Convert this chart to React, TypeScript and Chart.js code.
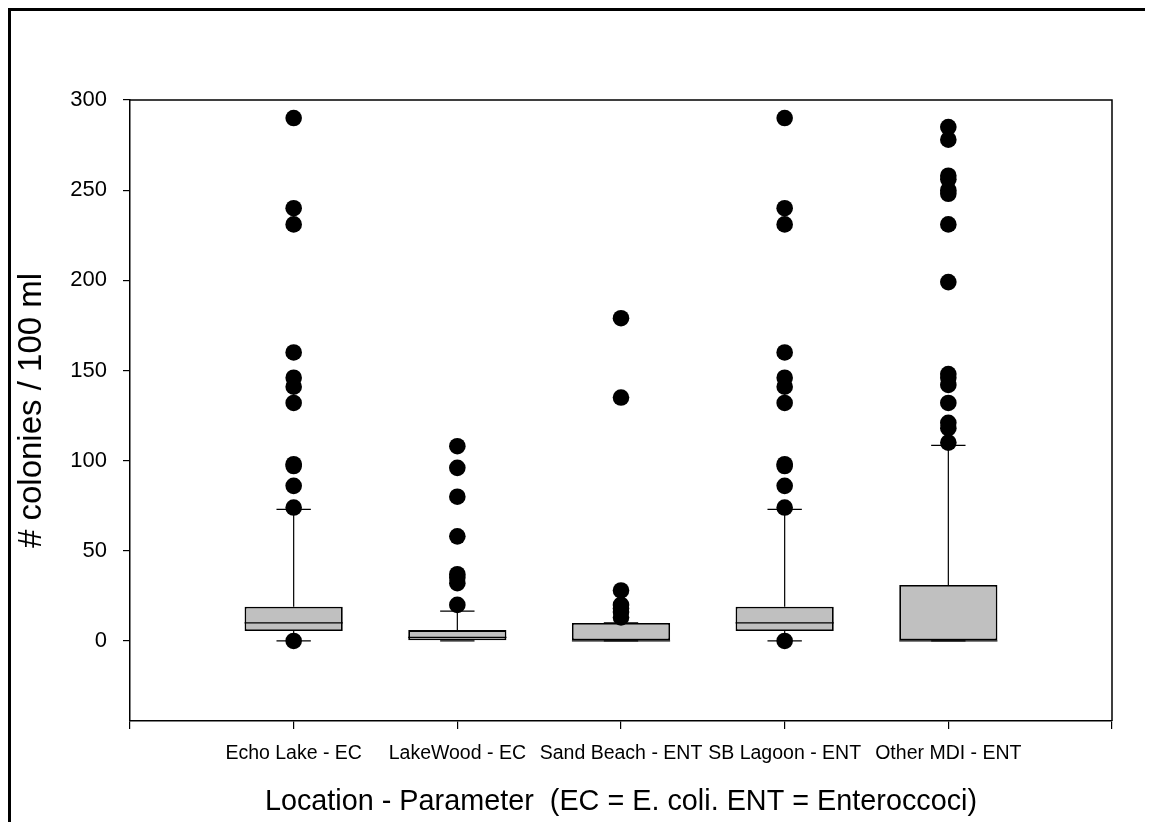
import React, { useEffect, useRef } from "react";
import { Chart, registerables } from "chart.js";

Chart.register(...registerables);

const categories = ["Echo Lake - EC", "LakeWood - EC", "Sand Beach - ENT", "SB Lagoon - ENT", "Other MDI - ENT"];
const boxQ1 = [5.5, 0, 0, 5.5, 0];
const boxQ3 = [19, 6, 10, 19, 31];
const medians = [10, 2, 0, 10, 0];
const whiskerLow = [0, 0, 0, 0, 0];
const whiskerHigh = [73, 16.5, 10, 73, 108.5];

const outliersEchoLake = [0, 74, 86, 97, 98, 132, 141, 146, 160, 231, 240, 290];
const outliersLakeWood = [20, 32, 35, 37, 58, 80, 96, 108];
const outliersSandBeach = [13, 16, 18, 20, 28, 135, 179];
const outliersSBLagoon = [0, 74, 86, 97, 98, 132, 141, 146, 160, 231, 240, 290];
const outliersOtherMDI = [110, 118, 121, 132, 142, 146, 148, 199, 231, 248, 250, 256, 258, 278, 285];
const outlierGroups = [outliersEchoLake, outliersLakeWood, outliersSandBeach, outliersSBLagoon, outliersOtherMDI];

const yTickValues = [0, 50, 100, 150, 200, 250, 300];
const xTickValues = [0, 1, 2, 3, 4, 5, 6];
const yMin = -44.4;
const yMax = 300;

const FONT = "'Liberation Sans', Arial, Helvetica, sans-serif";
const BOX_FRACTION = 0.6;
const CAP_FRACTION = 0.21;

const boxPlotPlugin = {
  id: "boxPlotParts",
  beforeDatasetsDraw(chart: any) {
    const { ctx, scales } = chart;
    const xs = scales.x;
    const ys = scales.y;
    ctx.save();
    ctx.strokeStyle = "#000";
    ctx.lineWidth = 1.2;
    const unit = xs.getPixelForValue(1) - xs.getPixelForValue(0);
    const capHalf = (unit * CAP_FRACTION) / 2;
    categories.forEach((_, i) => {
      const x = xs.getPixelForValue(i + 1);
      const yHi = ys.getPixelForValue(whiskerHigh[i]);
      const yLo = ys.getPixelForValue(whiskerLow[i]);
      const yQ1 = ys.getPixelForValue(boxQ1[i]);
      const yQ3 = ys.getPixelForValue(boxQ3[i]);
      ctx.beginPath();
      ctx.moveTo(x, yQ3);
      ctx.lineTo(x, yHi);
      ctx.moveTo(x, yQ1);
      ctx.lineTo(x, yLo);
      ctx.moveTo(x - capHalf, yHi);
      ctx.lineTo(x + capHalf, yHi);
      ctx.moveTo(x - capHalf, yLo);
      ctx.lineTo(x + capHalf, yLo);
      ctx.stroke();
    });
    ctx.restore();
  },
  afterDatasetDraw(chart: any, args: any) {
    if (args.meta.type !== "bar") return;
    const { ctx, scales } = chart;
    const xs = scales.x;
    const ys = scales.y;
    const unit = xs.getPixelForValue(1) - xs.getPixelForValue(0);
    const half = (unit * BOX_FRACTION) / 2;
    ctx.save();
    ctx.strokeStyle = "#000";
    ctx.lineWidth = 1.3;
    categories.forEach((_, i) => {
      const x = xs.getPixelForValue(i + 1);
      const y = ys.getPixelForValue(medians[i]);
      ctx.beginPath();
      ctx.moveTo(x - half, y);
      ctx.lineTo(x + half, y);
      ctx.stroke();
    });
    ctx.restore();
  },
  afterDraw(chart: any) {
    const { ctx, chartArea } = chart;
    ctx.save();
    ctx.strokeStyle = "#000";
    ctx.lineWidth = 1.5;
    ctx.beginPath();
    ctx.moveTo(chartArea.left, chartArea.top);
    ctx.lineTo(chartArea.right, chartArea.top);
    ctx.lineTo(chartArea.right, chartArea.bottom);
    ctx.stroke();
    ctx.restore();
  },
};

export default function App() {
  const canvasRef = useRef<HTMLCanvasElement | null>(null);

  useEffect(() => {
    document.body.style.overflow = "hidden";
    const canvas = canvasRef.current;
    if (!canvas) return;

    const scatterData: { x: number; y: number }[] = [];
    outlierGroups.forEach((group, i) => {
      group.forEach((v) => scatterData.push({ x: i + 1, y: v }));
    });
    const boxData = categories.map((_, i) => ({ x: i + 1, y: [boxQ1[i], boxQ3[i]] }));

    const chart = new Chart(canvas, {
      type: "bar",
      data: {
        datasets: [
          {
            type: "scatter",
            label: "Outliers",
            data: scatterData,
            pointRadius: 8.3,
            pointHoverRadius: 8.3,
            backgroundColor: "#000",
            borderWidth: 0,
            order: 1,
          } as any,
          {
            type: "bar",
            label: "Box",
            data: boxData as any,
            backgroundColor: "#c0c0c0",
            borderColor: "#000",
            borderWidth: 1.8,
            borderSkipped: false,
            categoryPercentage: 1,
            barPercentage: BOX_FRACTION,
            order: 2,
          } as any,
        ],
      },
      options: {
        responsive: false,
        animation: false,
        events: [],
        layout: { padding: { left: 0, top: 89, right: 41, bottom: 0 } },
        plugins: {
          legend: { display: false },
          tooltip: { enabled: false },
        },
        scales: {
          x: {
            type: "linear",
            min: 0,
            max: 6,
            offset: false,
            afterBuildTicks: (scale: any) => {
              scale.ticks = xTickValues.map((v) => ({ value: v }));
            },
            afterFit: (scale: any) => {
              scale.height = 101;
            },
            ticks: {
              autoSkip: false,
              maxRotation: 0,
              minRotation: 0,
              padding: 13,
              color: "#000",
              font: { family: FONT, size: 19.5 },
              callback: (v: any) => {
                const idx = Math.round(Number(v)) - 1;
                return idx >= 0 && idx < categories.length ? categories[idx] : "";
              },
            },
            grid: {
              display: true,
              drawOnChartArea: false,
              drawTicks: true,
              tickLength: 8,
              color: "#000",
              lineWidth: 1.2,
              offset: false,
            },
            border: { display: true, color: "#000", width: 1.5 },
            title: {
              display: true,
              text: "Location - Parameter  (EC = E. coli. ENT = Enteroccoci)",
              color: "#000",
              font: { family: FONT, size: 28.8 },
              padding: { top: 0, bottom: 3 },
            },
          },
          y: {
            type: "linear",
            min: yMin,
            max: yMax,
            afterBuildTicks: (scale: any) => {
              scale.ticks = yTickValues.map((v) => ({ value: v }));
            },
            afterFit: (scale: any) => {
              scale.width = 119;
            },
            ticks: {
              padding: 16,
              color: "#000",
              font: { family: FONT, size: 22 },
            },
            grid: {
              display: true,
              drawOnChartArea: false,
              drawTicks: true,
              tickLength: 7,
              color: "#000",
              lineWidth: 1.2,
            },
            border: { display: true, color: "#000", width: 1.5 },
            title: {
              display: true,
              text: "# colonies / 100 ml",
              color: "#000",
              font: { family: FONT, size: 33 },
              padding: { top: 1, bottom: 0 },
            },
          },
        },
      },
      plugins: [boxPlotPlugin],
    } as any);

    return () => {
      chart.destroy();
    };
  }, []);

  return (
    <div
      style={{
        boxSizing: "border-box",
        width: 1145,
        height: 814,
        borderLeft: "3px solid #000",
        borderTop: "3px solid #000",
        background: "#fff",
        overflow: "hidden",
      }}
    >
      <canvas ref={canvasRef} width={1142} height={811} style={{ display: "block", width: 1142, height: 811 }} />
    </div>
  );
}
